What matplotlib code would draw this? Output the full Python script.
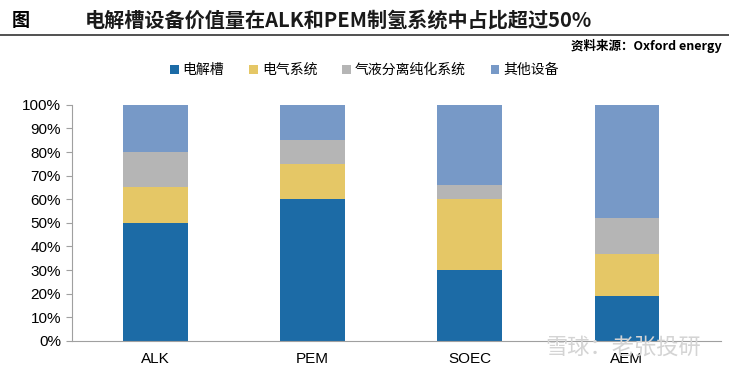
import matplotlib.pyplot as plt
import numpy as np

plt.rcParams['font.family'] = ['Noto Sans CJK SC', 'DejaVu Sans']

categories = ['ALK', 'PEM', 'SOEC', 'AEM']
series_names = ['电解槽', '电气系统', '气液分离纯化系统', '其他设备']
electrolyzer = [50, 60, 30, 19]
electrical = [15, 15, 30, 18]
separation = [15, 10, 6, 15]
other = [20, 15, 34, 48]
colors = ['#1c6ba6', '#e5c766', '#b5b5b5', '#7799c7']

fig = plt.figure(figsize=(7.29, 3.69), dpi=100)
ax = fig.add_axes([0.099, 0.076, 0.89, 0.64])

x = np.arange(len(categories))
bottom = np.zeros(len(categories))
for vals, name, c in zip([electrolyzer, electrical, separation, other], series_names, colors):
    ax.bar(x, vals, bottom=bottom, width=0.41, color=c, label=name)
    bottom += np.array(vals)

ax.set_ylim(0, 100)
ax.set_xlim(-0.53, 3.6)
ax.set_yticks(range(0, 101, 10))
ax.set_yticklabels([f'{v}%' for v in range(0, 101, 10)], fontsize=11, family='Liberation Sans')
ax.set_xticks(x)
ax.set_xticklabels(categories, fontsize=11, family='Liberation Sans')
for s in ['top', 'right']:
    ax.spines[s].set_visible(False)
ax.spines['left'].set_color('#a0a0a0')
ax.spines['bottom'].set_color('#a0a0a0')
ax.tick_params(axis='y', length=4, color='#a0a0a0', pad=4)
ax.tick_params(axis='x', length=0, pad=8)

fig.legend(loc='center', bbox_to_anchor=(0.5, 0.81), ncol=4, frameon=False,
           fontsize=10, handlelength=0.6, handleheight=0.6, handletextpad=0.3,
           columnspacing=1.8)

fig.text(0.016, 0.945, '图', fontsize=13, fontweight='bold', va='center')
fig.text(0.116, 0.945, '电解槽设备价值量在ALK和PEM制氢系统中占比超过50%', fontsize=14.5,
         fontweight='bold', va='center', color='#1a1a1a')
fig.add_artist(plt.Line2D([0.0, 1.0], [0.905, 0.905], color='#333333', lw=1.2))
fig.text(0.99, 0.876, '资料来源：Oxford energy', fontsize=9, fontweight='bold',
         ha='right', va='center')
fig.text(0.855, 0.06, '雪球：老张投研', fontsize=16, color='#d4d4d4', ha='center',
         va='center', zorder=0)

fig.savefig('out.png', dpi=100)
